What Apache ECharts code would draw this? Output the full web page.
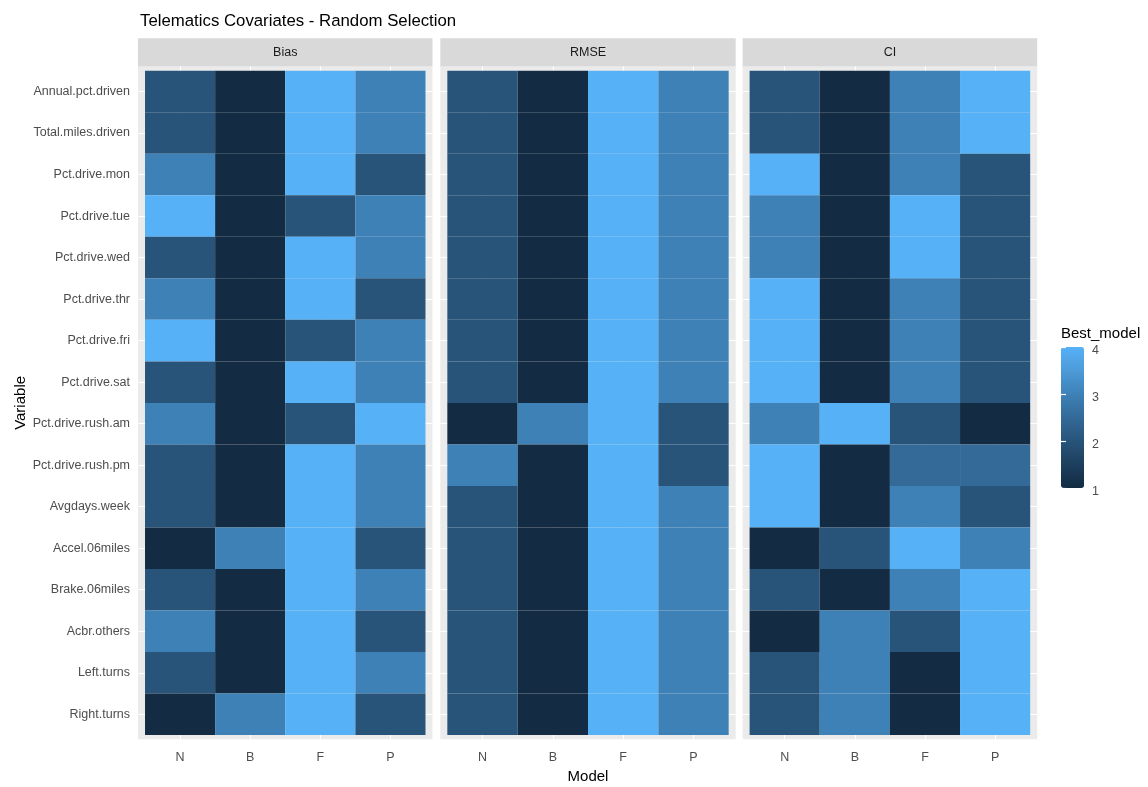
<!DOCTYPE html>
<html><head><meta charset="utf-8">
<script src="https://cdn.jsdelivr.net/npm/echarts@6/dist/echarts.min.js"></script>
<style>html,body{margin:0;padding:0;background:#fff}#c{width:1148px;height:787px}</style>
</head><body><div id="c"></div>
<script>
const FONT = "'Liberation Sans',Arial,sans-serif";

const variables = ['Annual.pct.driven','Total.miles.driven','Pct.drive.mon','Pct.drive.tue','Pct.drive.wed',
  'Pct.drive.thr','Pct.drive.fri','Pct.drive.sat','Pct.drive.rush.am','Pct.drive.rush.pm','Avgdays.week',
  'Accel.06miles','Brake.06miles','Acbr.others','Left.turns','Right.turns'];
const models = ['N','B','F','P'];
const panelNames = ['Bias','RMSE','CI'];
const legendTicks = [1,2,3,4];

// rows follow `variables`, columns follow `models`
const biasValues = [
  [2,1,4,3],[2,1,4,3],[3,1,4,2],[4,1,2,3],[2,1,4,3],[3,1,4,2],[4,1,2,3],[2,1,4,3],
  [3,1,2,4],[2,1,4,3],[2,1,4,3],[1,3,4,2],[2,1,4,3],[3,1,4,2],[2,1,4,3],[1,3,4,2]
];
const rmseValues = [
  [2,1,4,3],[2,1,4,3],[2,1,4,3],[2,1,4,3],[2,1,4,3],[2,1,4,3],[2,1,4,3],[2,1,4,3],
  [1,3,4,2],[3,1,4,2],[2,1,4,3],[2,1,4,3],[2,1,4,3],[2,1,4,3],[2,1,4,3],[2,1,4,3]
];
const ciValues = [
  [2,1,3,4],[2,1,3,4],[4,1,3,2],[3,1,4,2],[3,1,4,2],[4,1,3,2],[4,1,3,2],[4,1,3,2],
  [3,4,2,1],[4,1,2.5,2.5],[4,1,3,2],[1,2,4,3],[2,1,3,4],[1,3,2,4],[2,3,1,4],[2,3,1,4]
];
const allValues = [biasValues, rmseValues, ciValues];

// layout
const panelLeft = [138, 440.3, 742.6];
const panelWidth = [294.5, 295.4, 294.6];
const panelTop = 66.6, panelHeight = 672.6;
const stripTop = 38.3;
const TICK_FS = 12.5;

const grids = [], xAxes = [], yAxes = [], series = [], graphics = [];
for (let p = 0; p < 3; p++) {
  grids.push({left: panelLeft[p], top: panelTop, width: panelWidth[p], height: panelHeight,
    show: true, backgroundColor: '#EBEBEB', borderWidth: 0, containLabel: false, outerBoundsMode: 'none'});
  xAxes.push({
    type: 'value', gridIndex: p, min: -0.6, max: 3.6,
    axisLine: {show: false},
    axisTick: {show: true, customValues: [0,1,2,3], length: 4.5, lineStyle: {color: '#333333', width: 1}},
    axisLabel: {show: true, customValues: [0,1,2,3], formatter: v => models[Math.round(v)] || '',
      color: '#4D4D4D', fontFamily: FONT, fontSize: TICK_FS, margin: 12},
    splitLine: {show: true, lineStyle: {color: '#FFFFFF', width: 1.1}},
    name: p === 1 ? 'Model' : '', nameLocation: 'middle', nameGap: 30, nameMoveOverlap: false,
    nameTextStyle: {color: '#000', fontFamily: FONT, fontSize: 15}
  });
  yAxes.push({
    type: 'value', gridIndex: p, min: -0.6, max: 15.6, inverse: true,
    axisLine: {show: false},
    axisTick: {show: p === 0, customValues: variables.map((_, i) => i), length: 4.5, lineStyle: {color: '#333333', width: 1}},
    axisLabel: {show: p === 0, customValues: variables.map((_, i) => i), formatter: v => variables[Math.round(v)] || '',
      color: '#4D4D4D', fontFamily: FONT, fontSize: TICK_FS, margin: 8},
    splitLine: {show: true, lineStyle: {color: '#FFFFFF', width: 1.1}},
    name: p === 0 ? 'Variable' : '', nameLocation: 'middle', nameGap: 110, nameRotate: 90, nameMoveOverlap: false,
    nameTextStyle: {color: '#000', fontFamily: FONT, fontSize: 15}
  });
  const data = [];
  allValues[p].forEach((row, yi) => row.forEach((v, xi) => data.push([xi, yi, v])));
  series.push({
    type: 'custom', name: panelNames[p], xAxisIndex: p, yAxisIndex: p,
    encode: {x: 0, y: 1}, data: data, silent: true,
    renderItem: function (params, api) {
      const x = api.value(0), y = api.value(1);
      const a = api.coord([x - 0.5, y - 0.5]);
      const b = api.coord([x + 0.5, y + 0.5]);
      return {type: 'rect',
        shape: {x: Math.min(a[0], b[0]), y: Math.min(a[1], b[1]), width: Math.abs(b[0] - a[0]), height: Math.abs(b[1] - a[1])},
        style: {fill: api.visual('color')}};
    }
  });
  graphics.push({type: 'rect', left: panelLeft[p], top: stripTop,
    shape: {width: panelWidth[p], height: panelTop - stripTop}, style: {fill: '#D9D9D9'}, silent: true});
  graphics.push({type: 'text', x: panelLeft[p] + panelWidth[p] / 2, y: (stripTop + panelTop) / 2 + 0.5,
    style: {text: panelNames[p], fill: '#1A1A1A', font: TICK_FS + 'px ' + FONT, textAlign: 'center', textVerticalAlign: 'middle'}, silent: true});
}

// legend colorbar axes
const barLeft = 1061, barTop = 347, barW = 23, barH = 141;
grids.push({left: barLeft, top: barTop, width: barW, height: barH, show: false, outerBoundsMode: 'none'});
xAxes.push({type: 'value', gridIndex: 3, show: false});
const legendTickStyle = {show: true, inside: true, length: 5, lineStyle: {color: '#FFFFFF', width: 1.2}};
yAxes.push({type: 'value', gridIndex: 3, position: 'right', min: 1, max: 4, interval: 1, z: 10,
  axisLine: {show: false}, splitLine: {show: false}, axisTick: legendTickStyle,
  axisLabel: {show: true, customValues: legendTicks, color: '#4D4D4D', fontFamily: FONT, fontSize: TICK_FS,
    margin: 8, verticalAlign: 'top', lineHeight: 12, padding: [-2, 0, 0, 0]}});
yAxes.push({type: 'value', gridIndex: 3, position: 'left', min: 1, max: 4, interval: 1, z: 10,
  axisLine: {show: false}, splitLine: {show: false}, axisTick: legendTickStyle, axisLabel: {show: false}});

const chart = echarts.init(document.getElementById('c'), null, {renderer: 'canvas'});
chart.setOption({
  backgroundColor: '#FFFFFF',
  animation: false,
  title: [
    {text: 'Telematics Covariates - Random Selection', left: 135, top: 8,
      textStyle: {color: '#000', fontFamily: FONT, fontSize: 16.8, fontWeight: 'normal'}},
    {text: 'Best_model', left: 1056, top: 321,
      textStyle: {color: '#000', fontFamily: FONT, fontSize: 15, fontWeight: 'normal'}}
  ],
  tooltip: {show: false},
  grid: grids, xAxis: xAxes, yAxis: yAxes, series: series,
  visualMap: {
    type: 'continuous', min: 1, max: 4, dimension: 2, seriesIndex: [0, 1, 2],
    calculable: false, orient: 'vertical', left: barLeft, top: barTop, padding: 0,
    itemWidth: barW, itemHeight: barH, text: null, showLabel: false,
    inRange: {color: ['#132B43','#1D3F5E','#28547A','#336A98','#3E81B7','#4D9BD9','#56B1F7']}
  },
  graphic: graphics
});
</script></body></html>
